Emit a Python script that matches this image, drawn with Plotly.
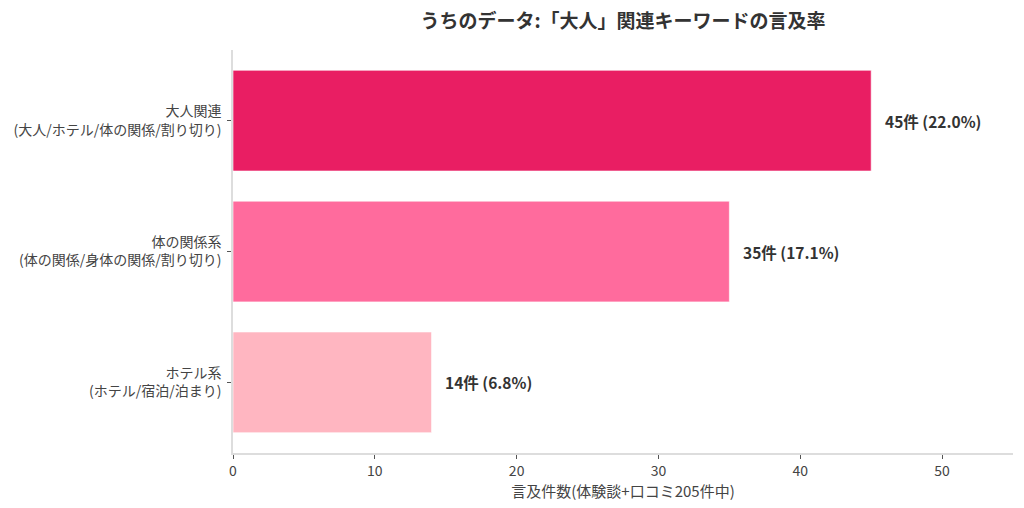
import plotly.graph_objects as go

categories = [
    "大人関連<br>(大人/ホテル/体の関係/割り切り)",
    "体の関係系<br>(体の関係/身体の関係/割り切り)",
    "ホテル系<br>(ホテル/宿泊/泊まり)",
]
counts = [45, 35, 14]
percents = [22.0, 17.1, 6.8]
colors = ["#E91E63", "#FF6B9D", "#FFB6C1"]

FONT = "Noto Sans CJK JP"

fig = go.Figure(
    go.Bar(
        y=categories,
        x=counts,
        orientation="h",
        width=0.77,
        marker=dict(color=colors, line=dict(color="rgba(255,255,255,0.6)", width=1)),
        hoverinfo="skip",
    )
)

# value labels to the right of each bar
for cat, n, p in zip(categories, counts, percents):
    fig.add_annotation(
        x=n + 0.8, y=cat, text=f"<b>{n}件 ({p:.1f}%)</b>",
        showarrow=False, xanchor="left", yanchor="middle",
        font=dict(family=FONT, size=15.5, color="#333333"),
    )

# page body has an 8px margin, so the figure is drawn 8px smaller
fig.update_layout(
    width=1016, height=500,
    margin=dict(l=225, r=11, t=42, b=55, autoexpand=False),
    paper_bgcolor="white", plot_bgcolor="white",
    font=dict(family=FONT, size=14, color="#444444"),
    showlegend=False,
    title=dict(
        text="<b>うちのデータ:「大人」関連キーワードの言及率</b>",
        x=0.5, xref="paper", y=1 - 13 / 500, yref="container",
        xanchor="center", yanchor="middle",
        font=dict(family=FONT, size=19, color="#333333"),
    ),
)
fig.update_xaxes(
    range=[0, 55], tick0=0, dtick=10,
    showgrid=False, zeroline=False, automargin=False,
    showline=True, linecolor="#dddddd", linewidth=1.5,
    ticks="outside", ticklen=4, tickcolor="#555555",
    tickfont=dict(size=14, color="#444444"),
    title=dict(text="言及件数(体験談+口コミ205件中)", font=dict(size=15, color="#444444"), standoff=4),
)
fig.update_yaxes(
    autorange=False,
    range=[2.54, -0.54],
    showgrid=False, zeroline=False, automargin=False,
    showline=True, linecolor="#dddddd", linewidth=1.5,
    ticks="outside", ticklen=4, tickcolor="#555555",
    ticklabelstandoff=3,
    tickfont=dict(size=14, color="#444444"),
)

fig.write_html("out.html")
